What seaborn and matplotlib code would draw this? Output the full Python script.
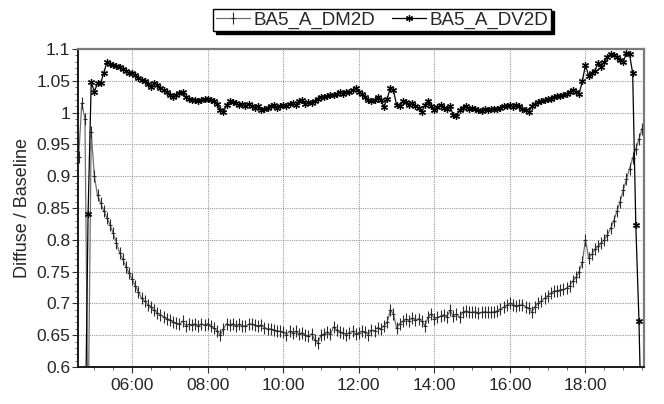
import numpy as np
import pandas as pd
import matplotlib
matplotlib.use("Agg")
import matplotlib.pyplot as plt
import matplotlib.dates as mdates
from matplotlib.path import Path
import seaborn as sns

# ---- data (5-minute samples, 04:30 .. 19:35) ----
START = "2000-01-01 04:30"
END = "2000-01-01 19:35"
STEP = "5min"
nan = np.nan

dm2d = [
    1.0, 0.93, 1.015, 0.99, 0.50, 0.97,                                                   # 04:30-04:55
    0.90, 0.87, 0.858, 0.845, 0.835, 0.823, 0.81, 0.795, 0.78, 0.77, 0.758, 0.748,        # 05
    0.738, 0.728, 0.718, 0.708, 0.703, 0.698, 0.694, 0.689, 0.685, 0.682, 0.679, 0.676,   # 06
    0.674, 0.671, 0.669, 0.667, 0.672, 0.665, 0.667, 0.666, 0.668, 0.664, 0.668, 0.666,   # 07
    0.668, 0.664, 0.661, 0.657, 0.650, 0.660, 0.668, 0.666, 0.668, 0.664, 0.667, 0.665,   # 08
    0.664, 0.667, 0.668, 0.666, 0.664, 0.666, 0.662, 0.660, 0.660, 0.658, 0.657, 0.656,   # 09
    0.655, 0.651, 0.656, 0.654, 0.656, 0.652, 0.654, 0.650, 0.648, 0.652, 0.643, 0.638,   # 10
    0.650, 0.652, 0.655, 0.652, 0.663, 0.658, 0.655, 0.654, 0.651, 0.654, 0.656, 0.652,   # 11
    0.654, 0.656, 0.655, 0.651, 0.658, 0.657, 0.662, 0.660, 0.665, 0.670, 0.689, 0.684,   # 12
    0.661, 0.668, 0.672, 0.675, 0.673, 0.677, 0.674, 0.676, 0.672, 0.665, 0.678, 0.684,   # 13
    0.676, 0.678, 0.680, 0.682, 0.679, 0.689, 0.680, 0.683, 0.678, 0.686, 0.688, 0.686,   # 14
    0.686, 0.687, 0.685, 0.686, 0.687, 0.686, 0.686, 0.687, 0.688, 0.691, 0.694, 0.697,   # 15
    0.700, 0.698, 0.696, 0.697, 0.698, 0.695, 0.692, 0.687, 0.695, 0.700, 0.704, 0.708,   # 16
    0.712, 0.716, 0.719, 0.720, 0.721, 0.722, 0.724, 0.728, 0.735, 0.741, 0.750, 0.765,   # 17
    0.800, 0.772, 0.777, 0.785, 0.790, 0.795, 0.800, 0.808, 0.818, 0.830, 0.845, 0.860,   # 18
    0.878, 0.895, 0.912, 0.928, 0.943, 0.958, 0.975, 0.965,                               # 19:00-19:35
]

dv2d = [
    nan, nan, nan, 0.45, 0.84, 1.048,                                                     # 04:30-04:55
    1.033, 1.046, 1.046, 1.063, 1.079, 1.077, 1.075, 1.073, 1.071, 1.068, 1.066, 1.062,   # 05
    1.062, 1.059, 1.055, 1.052, 1.050, 1.045, 1.041, 1.046, 1.044, 1.038, 1.036, 1.032,   # 06
    1.028, 1.025, 1.027, 1.031, 1.033, 1.024, 1.021, 1.020, 1.020, 1.019, 1.020, 1.021,   # 07
    1.022, 1.020, 1.018, 1.014, 1.004, 1.001, 1.012, 1.018, 1.016, 1.015, 1.012, 1.014,   # 08
    1.011, 1.013, 1.010, 1.008, 1.010, 1.004, 1.005, 1.008, 1.010, 1.012, 1.008, 1.011,   # 09
    1.012, 1.010, 1.014, 1.015, 1.012, 1.018, 1.020, 1.014, 1.016, 1.015, 1.018, 1.022,   # 10
    1.025, 1.024, 1.026, 1.028, 1.027, 1.030, 1.033, 1.030, 1.033, 1.032, 1.035, 1.038,   # 11
    1.033, 1.029, 1.024, 1.020, 1.018, 1.020, 1.024, 1.020, 1.009, 1.022, 1.038, 1.035,   # 12
    1.012, 1.010, 1.018, 1.016, 1.012, 1.015, 1.010, 1.008, 1.001, 1.012, 1.018, 1.010,   # 13
    1.004, 1.009, 1.012, 1.008, 1.006, 1.010, 0.996, 0.994, 1.004, 1.008, 1.010, 1.006,   # 14
    1.008, 1.006, 1.004, 1.002, 1.005, 1.004, 1.006, 1.005, 1.006, 1.008, 1.010, 1.011,   # 15
    1.012, 1.009, 1.012, 1.010, 1.006, 1.004, 1.001, 1.010, 1.014, 1.016, 1.018, 1.020,   # 16
    1.021, 1.022, 1.025, 1.026, 1.026, 1.028, 1.030, 1.033, 1.035, 1.033, 1.030, 1.049,   # 17
    1.075, 1.058, 1.062, 1.066, 1.078, 1.072, 1.080, 1.088, 1.092, 1.090, 1.088, 1.082,   # 18
    1.080, 1.093, 1.092, 1.062, 0.823, 0.673, 0.45, nan,                                  # 19:00-19:35
]

series_names = ["BA5_A_DM2D", "BA5_A_DV2D"]
y_label = "Diffuse / Baseline"
y_ticks = [0.6, 0.65, 0.7, 0.75, 0.8, 0.85, 0.9, 0.95, 1.0, 1.05, 1.1]
y_tick_labels = ["0.6", "0.65", "0.7", "0.75", "0.8", "0.85", "0.9", "0.95", "1", "1.05", "1.1"]
x_major_hours = [6, 8, 10, 12, 14, 16, 18]
x_min = "2000-01-01 04:34"
x_max = "2000-01-01 19:33"

times = pd.date_range(START, END, freq=STEP)
df = pd.DataFrame({"time": times, series_names[0]: dm2d, series_names[1]: dv2d})

# tall "+" marker (long vertical bar, short horizontal arm)
tall_plus = Path([(0, -1), (0, 1), (-0.35, 0), (0.35, 0)],
                 [Path.MOVETO, Path.LINETO, Path.MOVETO, Path.LINETO])

# ---- figure ----
sns.set_style("white")
plt.rcParams["font.family"] = ["Liberation Sans", "DejaVu Sans"]

W, H = 664, 404
fig = plt.figure(figsize=(W / 100, H / 100), dpi=100)
L, R, T, B = 78, 644, 49, 367
ax = fig.add_axes([L / W, 1 - B / H, (R - L) / W, (B - T) / H])

sns.lineplot(data=df, x="time", y=series_names[0], ax=ax, estimator=None,
             color="#707070", lw=0.9, marker=tall_plus, markersize=8,
             markeredgecolor="#2a2a2a", mew=0.8, label=series_names[0])
sns.lineplot(data=df, x="time", y=series_names[1], ax=ax, estimator=None,
             color="black", lw=0.9, marker=(6, 2, 0), markersize=5,
             markeredgecolor="black", mew=0.9, label=series_names[1])

ax.set_xlim(pd.Timestamp(x_min), pd.Timestamp(x_max))
ax.set_ylim(0.6, 1.1)
ax.set_yticks(y_ticks)
ax.set_yticklabels(y_tick_labels)
ax.yaxis.set_minor_locator(matplotlib.ticker.MultipleLocator(0.01))
ax.xaxis.set_major_locator(mdates.HourLocator(byhour=x_major_hours))
ax.xaxis.set_major_formatter(mdates.DateFormatter("%H:%M"))
ax.xaxis.set_minor_locator(mdates.MinuteLocator(byminute=[0, 30]))

ax.set_xlabel("")
ax.set_ylabel(y_label, fontsize=13, labelpad=4)
ax.tick_params(axis="both", which="major", labelsize=12.5, length=4, width=0.8,
               color="#333333", direction="out", pad=1.5)
ax.tick_params(axis="x", which="major", pad=4)
ax.tick_params(axis="both", which="minor", length=2, width=0.6, color="#555555",
               direction="out")
ax.tick_params(left=True, bottom=True, which="both")

ax.grid(True, which="major", color="#9a9a9a", linestyle=(0, (1, 1)), linewidth=0.8)
ax.set_axisbelow(True)

for side in ["top", "right"]:
    ax.spines[side].set_color("#7a7a7a")
    ax.spines[side].set_linewidth(1.6)
for side in ["left", "bottom"]:
    ax.spines[side].set_color("#1a1a1a")
    ax.spines[side].set_linewidth(1.4)

ax.get_legend().remove()
handles, labels = ax.get_legend_handles_labels()
leg = fig.legend(handles, labels, loc="center", bbox_to_anchor=(382 / W, 1 - 20 / H),
                 ncol=2, fontsize=13.5, frameon=True, fancybox=False,
                 edgecolor="black", framealpha=1,
                 shadow={"color": "black", "alpha": 1},
                 handlelength=1.8, handletextpad=0.2, columnspacing=0.9,
                 borderpad=0.15, borderaxespad=0)
leg.get_frame().set_linewidth(1.0)

fig.savefig("out.png", dpi=100)
